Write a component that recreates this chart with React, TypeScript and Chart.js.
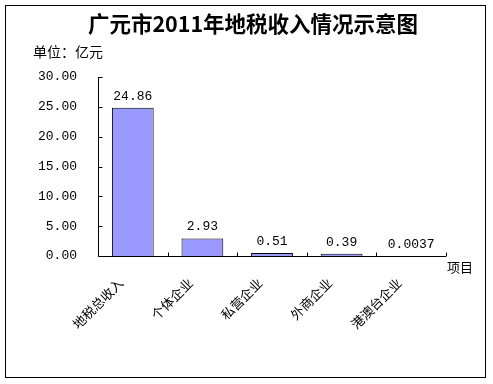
import React, { useEffect, useRef } from "react";
import { Chart, registerables } from "chart.js";

Chart.register(...registerables);

const TITLE = "广元市2011年地税收入情况示意图";
const UNIT = "单位：亿元";
const X_AXIS_NAME = "项目";
const categories = ["地税总收入", "个体企业", "私营企业", "外商企业", "港澳台企业"];
const values = [24.86, 2.93, 0.51, 0.39, 0.0037];
const valueLabels = ["24.86", "2.93", "0.51", "0.39", "0.0037"];
const yMin = 0;
const yMax = 30;
const yStep = 5;

const CJK = "'Noto Sans CJK SC', sans-serif";
const MONO = "'Liberation Mono', monospace";

const decor = {
  id: "decor",
  afterDraw(chart: any) {
    const ctx = chart.ctx as CanvasRenderingContext2D;
    const xs = chart.scales.x;
    const ys = chart.scales.y;
    ctx.save();
    ctx.strokeStyle = "#000";
    ctx.fillStyle = "#000";
    ctx.lineWidth = 1;
    // outer frame
    ctx.strokeRect(5.5, 5.5, 480, 372);
    // title
    ctx.font = `bold 21.5px ${CJK}`;
    ctx.textAlign = "center";
    ctx.textBaseline = "middle";
    ctx.fillText(TITLE, 253, 24);
    // unit
    ctx.font = `14px ${CJK}`;
    ctx.textAlign = "left";
    ctx.fillText(UNIT, 33, 52);
    // axes
    const left = Math.round(xs.left) + 0.5;
    const bottom = Math.round(ys.bottom) + 0.5;
    ctx.beginPath();
    ctx.moveTo(left, Math.round(ys.top));
    ctx.lineTo(left, bottom);
    ctx.lineTo(Math.round(xs.right), bottom);
    // y ticks (inward)
    for (let v = yMin; v <= yMax; v += yStep) {
      const py = Math.round(ys.getPixelForValue(v)) + 0.5;
      ctx.moveTo(left, py);
      ctx.lineTo(left + 4, py);
    }
    // x ticks at category boundaries (upward)
    const n = categories.length;
    const w = (xs.right - xs.left) / n;
    for (let i = 1; i <= n; i++) {
      const px = Math.round(xs.left + i * w) + 0.5;
      ctx.moveTo(px, bottom);
      ctx.lineTo(px, bottom - 4);
    }
    ctx.stroke();
    // data labels
    ctx.font = `13px ${MONO}`;
    ctx.textAlign = "center";
    ctx.textBaseline = "bottom";
    const meta = chart.getDatasetMeta(0);
    meta.data.forEach((bar: any, i: number) => {
      ctx.fillText(valueLabels[i], bar.x, bar.y - 5);
    });
    // x axis name
    ctx.font = `13px ${CJK}`;
    ctx.textAlign = "left";
    ctx.textBaseline = "middle";
    ctx.fillText(X_AXIS_NAME, 447, 267);
    ctx.restore();
  },
};

export default function App() {
  const ref = useRef<HTMLCanvasElement | null>(null);
  useEffect(() => {
    if (!ref.current) return;
    const chart = new Chart(ref.current, {
      type: "bar",
      data: {
        labels: categories,
        datasets: [
          {
            data: values,
            backgroundColor: "#9999FF",
            borderColor: "#000",
            borderWidth: 1,
            barPercentage: 0.6,
            categoryPercentage: 1,
          },
        ],
      },
      options: {
        responsive: false,
        animation: false,
        devicePixelRatio: 1,
        layout: { padding: { left: 0, top: 77, right: 47, bottom: 0 } },
        plugins: {
          legend: { display: false },
          title: { display: false },
          tooltip: { enabled: false },
        },
        scales: {
          x: {
            grid: { display: false, drawTicks: false },
            border: { display: false },
            ticks: {
              autoSkip: false,
              minRotation: 45,
              maxRotation: 45,
              padding: 19,
              labelOffset: -12,
              color: "#000",
              font: { family: CJK, size: 13 },
            },
            afterFit: (s: any) => {
              s.height = 128;
            },
          },
          y: {
            min: yMin,
            max: yMax,
            grid: { display: false, drawTicks: false },
            border: { display: false },
            ticks: {
              stepSize: yStep,
              padding: 21,
              color: "#000",
              font: { family: MONO, size: 13 },
              callback: (v: any) => Number(v).toFixed(2),
            },
            afterFit: (s: any) => {
              s.width = 98;
            },
          },
        },
      },
      plugins: [decor],
    });
    return () => chart.destroy();
  }, []);
  return (
    <div style={{ position: "absolute", left: 0, top: 0, width: 493, height: 384, background: "#fff" }}>
      <canvas ref={ref} width={493} height={384} />
    </div>
  );
}
